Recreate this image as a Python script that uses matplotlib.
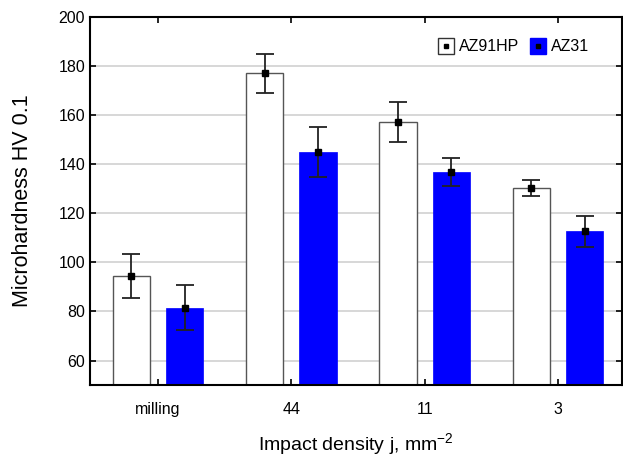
import numpy as np
import matplotlib.pyplot as plt
from matplotlib.lines import Line2D

plt.rcParams['font.family'] = ['Liberation Sans', 'DejaVu Sans']
plt.rcParams['mathtext.fontset'] = 'custom'
plt.rcParams['mathtext.rm'] = 'Liberation Sans'

categories = ['milling', '44', '11', '3']
az91_mean = [94.5, 177.0, 157.2, 130.3]
az91_err = [9.0, 8.1, 8.0, 3.2]
az31_mean = [81.6, 145.0, 136.8, 112.6]
az31_err = [9.3, 10.0, 5.8, 6.5]
yticks = [60, 80, 100, 120, 140, 160, 180, 200]

x = np.arange(len(categories))
w = 0.28
off = 0.2

fig = plt.figure(figsize=(6.23, 4.59), dpi=100)
ax = fig.add_axes([0.1445, 0.161, 0.854, 0.802])

for y in yticks[:-1]:
    ax.axhline(y, color='#d4d4d4', lw=1.3, zorder=0)

ax.bar(x - off, az91_mean, w, bottom=0, color='white', edgecolor='#555555', linewidth=1.0, zorder=2)
ax.bar(x + off, az31_mean, w, bottom=0, color='#0000ff', edgecolor='#0000ff', linewidth=0.5, zorder=2)

ax.errorbar(x - off, az91_mean, yerr=az91_err, fmt='s', color='black', ms=5,
            ecolor='#222222', elinewidth=1.3, capsize=6.5, capthick=1.3, zorder=3)
ax.errorbar(x + off, az31_mean, yerr=az31_err, fmt='s', color='black', ms=5,
            ecolor='#222222', elinewidth=1.3, capsize=6.5, capthick=1.3, zorder=3)

ax.set_xlim(-0.51, 3.48)
ax.set_ylim(50, 200)
ax.set_yticks(yticks)
ax.set_xticks(x)
ax.set_xticklabels(categories)
ax.tick_params(direction='in', length=4, width=1.2, labelsize=11.5, top=True, right=True)
ax.tick_params(axis='x', pad=12)
for s in ax.spines.values():
    s.set_linewidth(1.5)

ax.set_ylabel('Microhardness HV 0.1', fontsize=15.5)
ax.yaxis.set_label_coords(-0.108, 0.5)
ax.set_xlabel('Impact density j, mm$^{\\mathrm{-2}}$', fontsize=14)
ax.xaxis.set_label_coords(0.5, -0.125)

h1 = (Line2D([], [], marker='s', ls='', ms=11, mfc='white', mec='#333333', mew=1.0),
      Line2D([], [], marker='s', ls='', ms=3, color='black'))
h2 = (Line2D([], [], marker='s', ls='', ms=11, mfc='#0000ff', mec='#0000ff'),
      Line2D([], [], marker='s', ls='', ms=3, color='black'))
ax.legend([h1, h2], ['AZ91HP', 'AZ31'], ncol=2, frameon=False, fontsize=11.5,
          loc='upper right', bbox_to_anchor=(0.965, 0.978), handlelength=0.8,
          handletextpad=0.4, columnspacing=0.8)

fig.savefig('out.png', dpi=100)
